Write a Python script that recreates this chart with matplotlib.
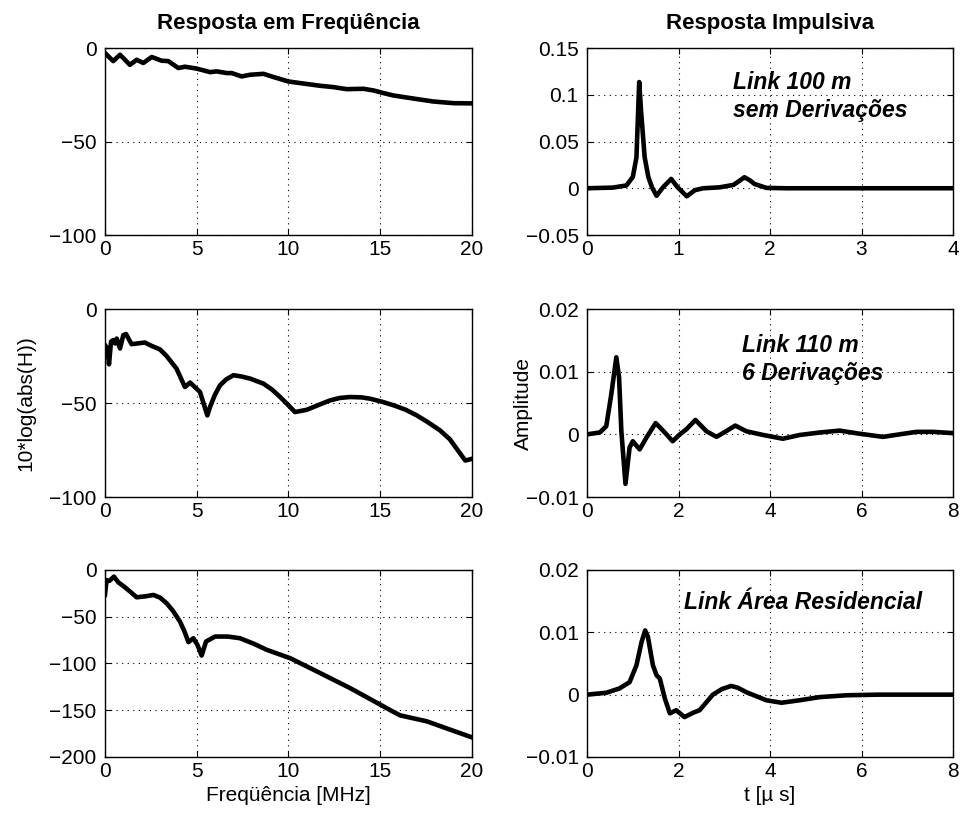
import numpy as np
import matplotlib
matplotlib.use("Agg")
import matplotlib.pyplot as plt

plt.rcParams['font.family'] = ['Liberation Sans', 'DejaVu Sans']
plt.rcParams['axes.unicode_minus'] = True

# ---- Data ----
f1 = [0, 0.45, 0.82, 1.36, 1.73, 2.09, 2.55, 3.09, 3.45, 4.0, 4.36, 5.0, 5.73, 6.09, 6.64, 6.91,
      7.45, 7.91, 8.64, 9.18, 10.0, 10.64, 11.73, 12.45, 13.18, 14.09, 14.64, 15.18, 15.73, 17.0,
      17.9, 19.0, 20.0]
H1 = [-2.7, -7, -3.6, -9, -6.3, -8, -4.8, -6.8, -7, -10.7, -10, -11, -12.9, -12.5, -13.4, -13.4,
      -15.2, -14.3, -13.8, -15.5, -17.9, -18.75, -20.2, -20.9, -22, -21.8, -22.7, -24.1, -25.4, -27.3,
      -28.6, -29.5, -29.6]

t1 = [0, 0.28, 0.43, 0.5, 0.54, 0.57, 0.59, 0.63, 0.67, 0.71, 0.76, 0.83, 0.92, 0.99, 1.09, 1.18,
      1.27, 1.45, 1.6, 1.66, 1.72, 1.78, 1.83, 1.96, 2.18, 4.0]
h1 = [0, 0.0007, 0.003, 0.012, 0.033, 0.1136, 0.083, 0.033, 0.012, 0.001, -0.008, 0.001, 0.010,
      0.001, -0.0086, -0.002, 0, 0.001, 0.0036, 0.0075, 0.0118, 0.0085, 0.0046, 0.0004, 0, 0]

f2 = [0, 0.13, 0.22, 0.33, 0.45, 0.55, 0.64, 0.82, 1.0, 1.15, 1.45, 2.18, 2.45, 3.0, 3.36, 3.9,
      4.36, 4.64, 5.18, 5.58, 5.73, 6.0, 6.27, 6.6, 7.0, 7.45, 7.91, 8.64, 9.1, 9.55, 10.0, 10.36,
      11.0, 11.6, 12.27, 12.8, 13.36, 14.0, 14.45, 15.1, 15.73, 16.4, 17.0, 17.6, 18.27, 18.8, 19.18,
      19.64, 20.0]
H2 = [-19.2, -21, -29.4, -17.4, -16.5, -18.3, -15.7, -21, -13.9, -13.3, -18.7, -17.8, -19.2, -21.5,
      -25, -31.7, -41.5, -39.1, -44.1, -56.6, -52, -45.5, -40.6, -37.5, -35.2, -35.9, -37, -39.7,
      -42.8, -46.8, -51.2, -54.8, -53.6, -51.2, -48.6, -47.3, -46.8, -47.0, -47.7, -49.3, -51.2,
      -53.6, -56.6, -60.2, -64.6, -69.3, -74.4, -80.6, -79.7]

t2 = [0, 0.28, 0.42, 0.53, 0.64, 0.7, 0.75, 0.84, 0.93, 1.0, 1.15, 1.3, 1.5, 1.7, 1.87, 2.03,
      2.17, 2.37, 2.61, 2.83, 3.04, 3.24, 3.48, 3.85, 4.28, 4.65, 5.09, 5.52, 5.96, 6.47, 6.83,
      7.2, 7.56, 8.0]
h2 = [0, 0.0003, 0.0013, 0.0064, 0.0123, 0.0091, 0.0005, -0.0079, -0.0021, -0.0011, -0.0024,
      -0.0005, 0.0018, 0.0003, -0.0011, 0, 0.0008, 0.0023, 0.0005, -0.0004, 0.0005, 0.0014, 0.0005,
      -0.0001, -0.0007, -0.0001, 0.0003, 0.0006, 0.0001, -0.0004, 0, 0.0004, 0.0004, 0.0002]

f3 = [0, 0.09, 0.24, 0.49, 0.73, 1.09, 1.73, 2.2, 2.64, 3.0, 3.36, 3.7, 4.09, 4.35, 4.55, 4.82,
      5.05, 5.27, 5.51, 6.0, 6.7, 7.36, 8.1, 8.82, 10.09, 11.55, 13.36, 15.18, 15.7, 16.09, 17.55,
      18.82, 20.0]
H3 = [-26.7, -10.7, -11.7, -7.1, -13.2, -18.5, -29.2, -28.2, -26.7, -29.5, -35.6, -43.5, -55.2,
      -66.5, -77.2, -73, -80.5, -91.5, -76.5, -71.2, -71.2, -73, -78.8, -85.4, -94.3, -108.5,
      -126.3, -145.9, -151.5, -155.5, -161.9, -170.8, -179]

t3 = [0, 0.42, 0.71, 0.93, 1.08, 1.19, 1.27, 1.33, 1.44, 1.52, 1.59, 1.7, 1.81, 1.95, 2.13, 2.32,
      2.46, 2.6, 2.75, 2.95, 3.15, 3.3, 3.48, 3.92, 4.25, 4.65, 5.08, 5.67, 6.4, 8.0]
h3 = [0, 0.0003, 0.001, 0.002, 0.0047, 0.0084, 0.0103, 0.0093, 0.0047, 0.0031, 0.0026, -0.0006,
      -0.003, -0.0025, -0.0036, -0.0029, -0.0025, -0.0013, 0, 0.0009, 0.0014, 0.0011, 0.0004,
      -0.0009, -0.0013, -0.0009, -0.0004, -0.0001, 0, 0]

freq_ticks = [0, 5, 10, 15, 20]
yt_f1 = [-100, -50, 0]
yt_f3 = [-200, -150, -100, -50, 0]
yt_h1 = [-0.05, 0, 0.05, 0.1, 0.15]
yt_h2 = [-0.01, 0, 0.01, 0.02]
yt_h1_lbl = ['\u22120.05', '0', '0.05', '0.1', '0.15']
yt_h2_lbl = ['\u22120.01', '0', '0.01', '0.02']

labels = ["Link 100 m\nsem Derivações", "Link 110 m\n6 Derivações", "Link Área Residencial"]

# ---- Figure ----
fig = plt.figure(figsize=(9.63, 8.18), dpi=100)
FS = 15
lx, rx, w = 0.109, 0.6096, 0.381
rows = [(0.7127, 0.2286), (0.3924, 0.2298), (0.0746, 0.2286)]

def style(ax):
    ax.grid(True, linestyle=(0, (1, 4)), color='black', linewidth=0.8)
    ax.tick_params(direction='in', length=4, top=True, right=True, labelsize=FS)
    ax.tick_params(axis='y', pad=6)
    ax.tick_params(axis='x', pad=3.5)
    for s in ax.spines.values():
        s.set_linewidth(1.0)

axes = []
for (y0, h) in rows:
    a = fig.add_axes([lx, y0, w, h])
    b = fig.add_axes([rx, y0, w * 0.9974, h])
    axes.append((a, b))

(a1, b1), (a2, b2), (a3, b3) = axes
LW = 3.3

a1.plot(f1, H1, color='black', lw=LW)
a1.set_xlim(0, 20); a1.set_ylim(-100, 0)
a1.set_xticks(freq_ticks); a1.set_yticks(yt_f1)

a2.plot(f2, H2, color='black', lw=LW)
a2.set_xlim(0, 20); a2.set_ylim(-100, 0)
a2.set_xticks(freq_ticks); a2.set_yticks(yt_f1)

a3.plot(f3, H3, color='black', lw=LW)
a3.set_xlim(0, 20); a3.set_ylim(-200, 0)
a3.set_xticks(freq_ticks); a3.set_yticks(yt_f3)

b1.plot(t1, h1, color='black', lw=LW)
b1.set_xlim(0, 4); b1.set_ylim(-0.05, 0.15)
b1.set_yticks(yt_h1); b1.set_yticklabels(yt_h1_lbl)

b2.plot(t2, h2, color='black', lw=LW)
b2.set_xlim(0, 8); b2.set_ylim(-0.01, 0.02)
b2.set_yticks(yt_h2); b2.set_yticklabels(yt_h2_lbl)

b3.plot(t3, h3, color='black', lw=LW)
b3.set_xlim(0, 8); b3.set_ylim(-0.01, 0.02)
b3.set_yticks(yt_h2); b3.set_yticklabels(yt_h2_lbl)

for pair in axes:
    for ax in pair:
        style(ax)

a1.set_title("Resposta em Freqüência", fontsize=16, fontweight='bold', pad=14)
b1.set_title("Resposta Impulsiva", fontsize=16, fontweight='bold', pad=14)
a2.set_ylabel("10*log(abs(H))", fontsize=FS)
a2.yaxis.set_label_coords(-0.19, 0.5)
b2.set_ylabel("Amplitude", fontsize=FS)
b2.yaxis.set_label_coords(-0.148, 0.5)
a3.set_xlabel("Freqüência [MHz]", fontsize=FS, labelpad=4)
b3.set_xlabel("t [\u00b5 s]", fontsize=FS, labelpad=4)

tkw = dict(fontsize=16.5, fontweight='bold', fontstyle='italic', ha='left', va='baseline',
           linespacing=1.3)
b1.text(1.6, 0.076, labels[0], **tkw)
b2.text(3.39, 0.0086, labels[1], **tkw)
b3.text(2.12, 0.0138, labels[2], **tkw)

fig.savefig("out.png", dpi=100)
